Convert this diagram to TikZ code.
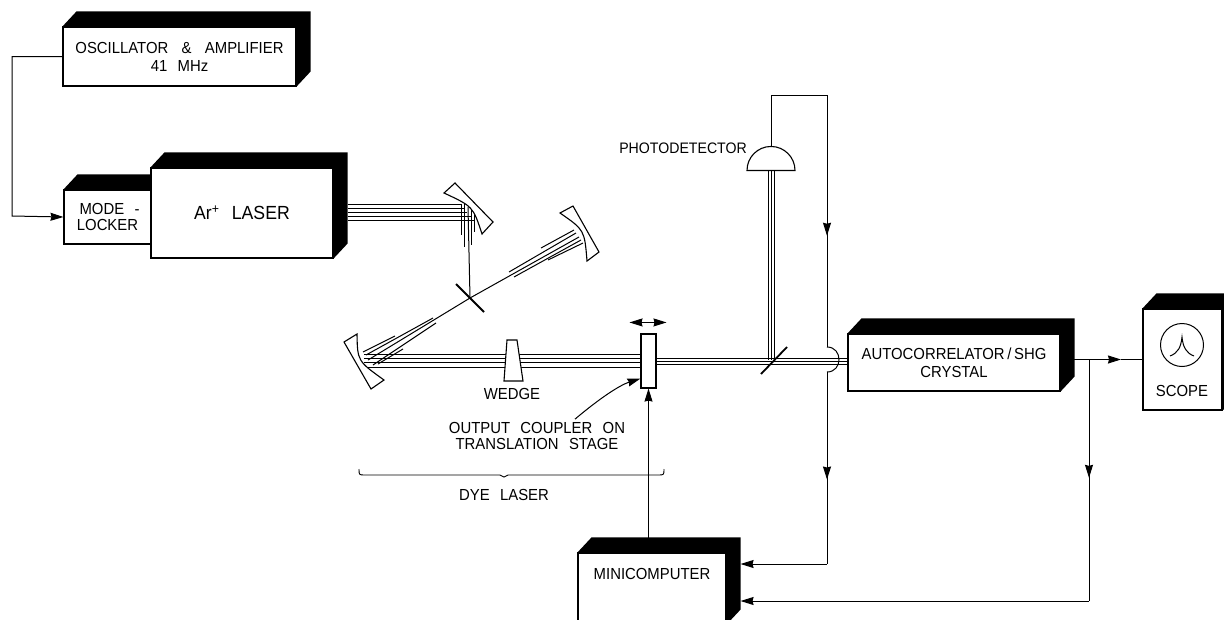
\documentclass[tikz,border=0pt]{standalone}
\usepackage{fontspec}
\setsansfont[WordSpace=2.5,FakeStretch=0.93]{Liberation Sans}
\usetikzlibrary{arrows.meta,positioning,calc,backgrounds,shapes.geometric,decorations.markings}
\newcommand{\backface}[1]{%
  \begin{scope}[on background layer]
    \fill (#1.north west) -- ++(14,-15) -- ($(#1.north east)+(14,-15)$)
      -- ($(#1.south east)+(14,-15)$) -- (#1.south east) -- (#1.north east) -- cycle;
  \end{scope}}

\begin{document}
\begin{tikzpicture}[
  x=1pt, y=-1pt,
  font=\sffamily\fontsize{16}{16}\selectfont,
  >={Stealth[length=13pt,width=8pt,inset=1pt]},
  block/.style={rectangle, draw, fill=white, line width=1.1pt, align=center, inner sep=0pt},
  lbl/.style={align=center, inner sep=0pt},
  wire/.style={draw, line width=1pt},
  flow/.style={->, wire},
  midtip/.style={postaction={decorate}, decoration={markings,
                 mark=at position #1 with {\arrow{Stealth[length=13pt,width=8pt,inset=1pt]}}}},
  beam/.style={line width=1pt},
  optic/.style={draw, fill=white, line width=1.1pt},
  splitter/.style={line width=1.8pt},
]
\useasboundingbox (0,0) rectangle (1224,619);

% ---- blocks ----
\node[block, minimum width=233, minimum height=59] (osc) at (179.5,56.5)
  {OSCILLATOR\hspace{3pt} \& \hspace{3pt}AMPLIFIER\\[2pt]41 MHz};
\node[block, minimum width=87, minimum height=54] (ml) at (107.5,217)
  {\hspace{4pt}MODE -\\LOCKER};
\node[block, minimum width=182, minimum height=90] (laser) at (242,213)
  {\fontsize{19}{19}\selectfont Ar\textsuperscript{+} LASER};
\node[block, minimum width=212, minimum height=57] (ac) at (954,362.5)
  {AUTOCORRELATOR\,/\,SHG\\[2pt]CRYSTAL};
\node[block, minimum width=79, minimum height=101] (scope) at (1182.5,359.5) {};
\node[block, minimum width=148, minimum height=71] (mini) at (652,588.5) {};
\node[lbl, below=16pt of mini.north] (minilbl) {MINICOMPUTER};
\backface{osc}
\backface{ml}
\backface{laser}
\backface{ac}
\backface{scope}
\backface{mini}

% ---- scope face ----
\node[circle, draw, line width=1pt, minimum size=43, inner sep=0pt] (dial) at (1182,345) {};
\draw[line width=1pt] (1170,356) .. controls (1178,353) and (1181,347) .. (1182,337)
  .. controls (1183,347) and (1186,353) .. (1194,356);
\node[lbl, below=18pt of dial] (scopelbl) {SCOPE};

% ---- laser to first mirror ----
\foreach \y/\xe in {204/461, 208/464, 212/467, 216/471, 220/474}
  \draw[beam] (laser.east |- 0,\y) ++(14,0) -- (\xe,\y);
\foreach \xb/\ye in {461/235, 464/247, 471/245, 474/232}
  \draw[beam] (\xb,204) -- (\xb,\ye);
\coordinate (cross) at (470,298);
\draw[beam] (468,207) -- (cross);

% ---- cavity fans ----
\draw[beam] (cross) -- (579,237);
\foreach \xa/\ya/\xb/\yb in {574/230/541/248, 576/233/509/272, 581/240/514/277, 583/243/548/260}
  \draw[beam] (\xa,\ya) -- (\xb,\yb);
\draw[beam] (cross) -- (368,360);
\foreach \xa/\ya/\xb/\yb in {363/352/395/336, 366/355/433/318, 373/365/436/323, 378/364/403/349}
  \draw[beam] (\xa,\ya) -- (\xb,\yb);
\foreach \y in {354,358,362,367}
  \draw[beam] (364,\y) -- (641,\y);

% ---- optics ----
\draw[optic] (444,193) -- (455,183) -- (493,222) -- (482,234) .. controls (473,206.5) .. cycle;
\draw[optic] (560,213) -- (573,206) -- (599,252) -- (587,261) .. controls (584.5,230) .. cycle;
\draw[optic] (357,334) -- (344,342) -- (371,389) -- (384,380) .. controls (357.5,361) .. cycle;
\draw[optic] (507,340) -- (517,340) -- (523,381) -- (504,381) -- cycle;
\node[lbl, below=7pt of {$(512,381)$}] (wedgelbl) {WEDGE};
\draw[splitter] (456,284) -- (484,312);
\node[block, minimum width=15, minimum height=54] (coupler) at (648.5,361) {};
\draw[flow, <->] ($(coupler.north)+(-19,-11)$) -- ($(coupler.north)+(18,-11)$);

% ---- beam to detector and crystal ----
\foreach \dy in {-3,0,3}
  \draw[beam] ($(coupler.east)+(0,\dy)$) -- ($(ac.west)+(0,\dy-1.5)$);
\node[semicircle, draw, fill=white, line width=1.1pt, minimum width=46, minimum height=24,
      inner sep=0pt, anchor=chord center] (pd) at (771,171) {};
\node[lbl, font=\sffamily\fontsize{15.2}{15}\selectfont, anchor=east] (pdlbl) at (747,148) {PHOTODETECTOR};
\foreach \dx in {-3,0,3}
  \draw[beam] ($(pd.chord center)+(\dx,0)$) -- ($(pd.chord center)+(\dx,189)$);
\draw[splitter] (761,374) -- (787,347);

% ---- labels ----
\node[lbl] (ocl) at (537,436) {OUTPUT COUPLER ON\\TRANSLATION STAGE};
\draw[flow] ($(ocl.north)+(38,-3)$) .. controls (600,398) and (620,385) .. ($(coupler.south west)+(0,-10)$);
\draw[line width=0.9pt] (359,469) .. controls (359,475) .. (365,475) -- (500,475) -- (504,477)
  -- (508,475) -- (658,475) .. controls (664,475) .. (664,469);
\node[lbl] (dyelbl) at (504,495) {DYE LASER};

% ---- signal lines ----
\coordinate (hopa) at (827,347);
\coordinate (hopb) at (827,372);
\coordinate (inb) at (827,564);
\coordinate (inc) at (1089,601);
\draw[flow] (osc.west) -| (12,216) -- (ml.west);
\draw[wire, midtip=0.69] (pd.apex) -- (771,95) -- (827,95) -- (hopa);
\draw[wire] (hopa) .. controls (843,347) and (843,372) .. (hopb);
\draw[wire, midtip=0.56] (hopb) -- (inb);
\draw[flow, shorten >=14pt] (inb) -- (inb -| mini.east);
\draw[flow, shorten <=14pt] (coupler |- mini.north) -- (coupler.south);
\draw[flow] (ac.east |- scope.west) -- (1121,359.5);
\draw[wire] (1121,359.5) -- (scope.west);
\draw[wire, midtip=0.49] (inc |- scope.west) -- (inc);
\draw[flow, shorten >=14pt] (inc) -- (inc -| mini.east);
\end{tikzpicture}
\end{document}
